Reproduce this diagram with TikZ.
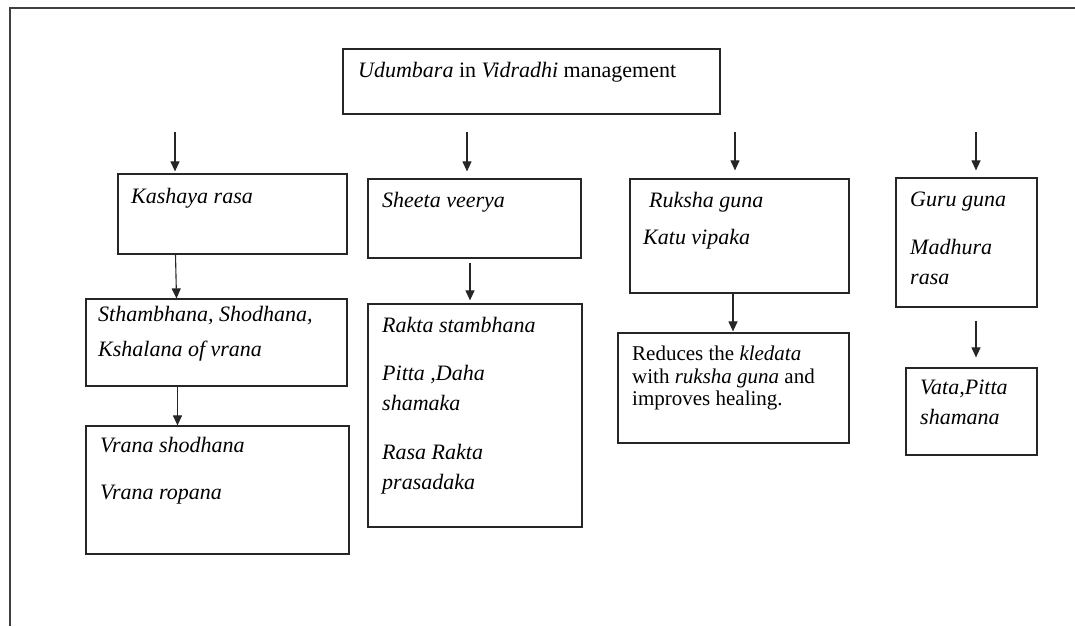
\documentclass[tikz,border=0pt]{standalone}
\usepackage{fontspec}
\setmainfont{Liberation Serif}
\usetikzlibrary{arrows.meta, positioning}

\begin{document}
\begin{tikzpicture}[
        x=1pt, y=-1pt,
        box/.style = {draw=black!85, rectangle, line width=1.2pt, inner sep=0pt},
        txt/.style = {anchor=north west, align=left, inner sep=0pt, font=\fontsize{22}{30}\selectfont\itshape},
        note/.style = {anchor=north west, align=left, inner sep=0pt, font=\fontsize{22}{30}\selectfont},
        arrow/.style = {draw=black!85, line width=1.1pt, -{Triangle[width=9pt, length=10pt]}}
    ]

        \useasboundingbox (0,0) rectangle (1075,626);

        % Page frame
        \draw[line width=1.3pt, black!75] (1075,8) -- (10,8) -- (10,626);

        % Title
        \node (title) [box, minimum width=377pt, minimum height=65pt] at (531.5,81.5) {};
        \node (titleTxt) [note] at (358,62) {\textit{Udumbara} in \textit{Vidradhi} management};

        % First row
        \node (kashaya) [box, minimum width=229pt, minimum height=80pt] at (232.5,214) {};
        \node (kashayaTxt) [txt] at (131,188) {Kashaya rasa};
        \node (sheeta) [box, minimum width=213pt, minimum height=79pt] at (474.5,218.5) {};
        \node (sheetaTxt) [txt] at (382,192) {Sheeta veerya};
        \node (ruksha) [box, minimum width=219pt, minimum height=114pt] at (739.5,236) {};
        \node (rukshaTxt) [txt] at (643,192) {\hspace*{6pt}Ruksha guna\\[7pt]Katu vipaka};
        \node (guru) [box, minimum width=141pt, minimum height=129pt] at (966.5,242.5) {};
        \node (guruTxt) [txt] at (910,192) {Guru guna\\[18pt]Madhura\\rasa};

        % Second row
        \node (sthambhana) [box, minimum width=261pt, minimum height=87pt] at (216.5,342.5) {};
        \node (sthambhanaTxt) [txt] at (98,306) {Sthambhana, Shodhana,\\[5pt]Kshalana of vrana};
        \node (rakta) [box, minimum width=214pt, minimum height=223pt] at (475,415.5) {};
        \node (raktaTxt) [txt] at (382,317) {Rakta stambhana\\[18pt]Pitta ,Daha\\shamaka\\[19pt]Rasa Rakta\\prasadaka};
        \node (kledata) [box, minimum width=231pt, minimum height=110pt] at (733.5,388) {};
        \node (kledataTxt) [note, font=\fontsize{21}{22.5}\selectfont] at (632,346) {Reduces the \textit{kledata}\\with \textit{ruksha guna} and\\improves healing.};
        \node (vata) [box, minimum width=131pt, minimum height=87pt] at (971.5,411.5) {};
        \node (vataTxt) [txt] at (920,380) {Vata,Pitta\\shamana};

        % Third row
        \node (vrana) [box, minimum width=263pt, minimum height=128pt] at (217.5,490) {};
        \node (vranaTxt) [txt] at (100,437) {Vrana shodhana\\[17pt]Vrana ropana};

        % Arrows from title level
        \coordinate (inKashaya) at (175,132);
        \coordinate (inSheeta) at (467,132);
        \coordinate (inRuksha) at (735,132);
        \coordinate (inGuru) at (976,132);
        \draw [arrow, shorten >=2pt] (inKashaya) -- (inKashaya |- kashaya.north);
        \draw [arrow, shorten >=7pt] (inSheeta) -- (inSheeta |- sheeta.north);
        \draw [arrow, shorten >=8pt] (inRuksha) -- (inRuksha |- ruksha.north);
        \draw [arrow, shorten >=7pt] (inGuru) -- (inGuru |- guru.north);

        % Arrows between boxes
        \draw [arrow] ([xshift=-57pt]kashaya.south) -- ([xshift=-40pt]sthambhana.north);
        \draw [arrow] ([xshift=-39pt]sthambhana.south) -- ([xshift=-40pt]vrana.north);
        \draw [arrow, shorten <=4pt, shorten >=3pt] ([xshift=-4.5pt]sheeta.south) -- ([xshift=-5pt]rakta.north);
        \draw [arrow, shorten >=1pt] ([xshift=-6.5pt]ruksha.south) -- ([xshift=-0.5pt]kledata.north);
        \draw [arrow, shorten <=13pt, shorten >=10pt] ([xshift=9.5pt]guru.south) -- ([xshift=4.5pt]vata.north);

    \end{tikzpicture}
\end{document}
